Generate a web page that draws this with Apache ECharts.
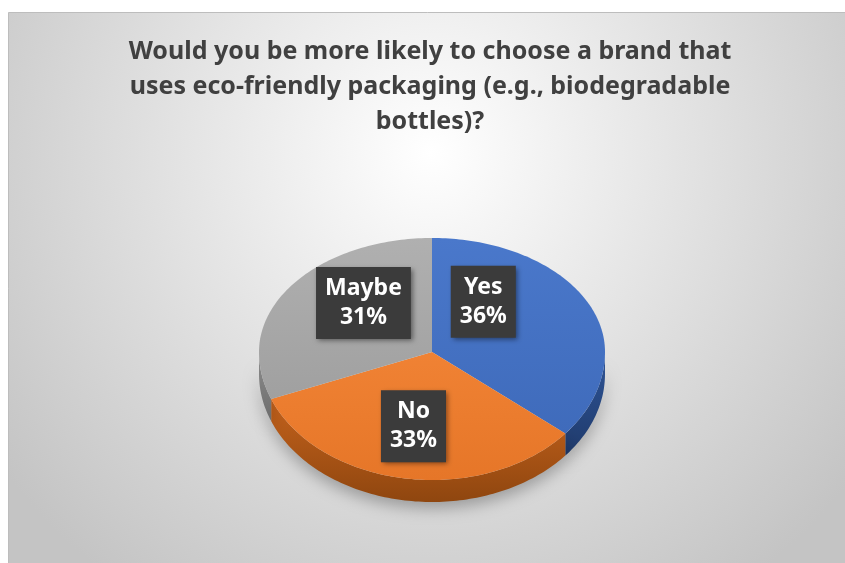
<!DOCTYPE html>
<html>
<head>
<meta charset="utf-8">
<script src="https://cdn.jsdelivr.net/npm/echarts@6/dist/echarts.min.js"></script>
<style>
  html, body { margin: 0; padding: 0; background: #ffffff; }
  #chart { width: 845px; height: 563px; }
</style>
</head>
<body>
<div id="chart"></div>
<script>
// Survey answers and their shares (percent)
const categories = ['Yes', 'No', 'Maybe'];
const shares = [36, 33, 31];
const titleLines = [
  'Would you be more likely to choose a brand that',
  'uses eco-friendly packaging (e.g., biodegradable',
  'bottles)?'
];

// Slice styling
const topColors = [
  ['#4a78cb', '#3f6bbb'],
  ['#f08234', '#e67628'],
  ['#b0b0b0', '#a0a0a0']
];
const sideColors = [
  ['#2f5597', '#1f3a6b'],
  ['#c4621c', '#8f460f'],
  ['#8e8e8e', '#6c6c6c']
];
// small per-label nudges (px) from the computed anchor point
const labelNudge = [[-27, -26], [-5, 11], [3, -17]];

// Tilted-disc geometry
const geo = { cx: 432, cy: 352, rx: 173, ryBack: 114, ryFront: 128, depth: 22 };

const total = shares.reduce((a, b) => a + b, 0);
const startAngles = [];
shares.reduce((acc, v, i) => { startAngles[i] = acc / total * Math.PI * 2; return acc + v; }, 0);

// theta measured clockwise from 12 o'clock
function rim(theta, dy) {
  const s = Math.sin(theta), c = Math.cos(theta);
  const ry = c > 0 ? geo.ryBack : geo.ryFront;
  return [geo.cx + geo.rx * s, geo.cy - ry * c + (dy || 0)];
}

function arcPoints(a0, a1, dy) {
  const n = Math.max(2, Math.ceil((a1 - a0) / 0.02));
  const pts = [];
  for (let k = 0; k <= n; k++) pts.push(rim(a0 + (a1 - a0) * k / n, dy));
  return pts;
}

function renderSlice(params, api) {
  const i = params.dataIndex;
  const value = api.value(0);
  const a0 = startAngles[i];
  const a1 = a0 + value / total * Math.PI * 2;
  const children = [];

  // front wall (only the part facing the viewer)
  const f0 = Math.max(a0, Math.PI / 2), f1 = Math.min(a1, Math.PI * 1.5);
  if (f1 > f0) {
    const topArc = arcPoints(f0, f1, 0);
    const botArc = arcPoints(f0, f1, geo.depth).reverse();
    children.push({
      type: 'polygon',
      z2: 1,
      shape: { points: topArc.concat(botArc) },
      style: {
        fill: new echarts.graphic.LinearGradient(0, 0, 0, 1, [
          { offset: 0, color: sideColors[i][0] },
          { offset: 1, color: sideColors[i][1] }
        ]),
        shadowBlur: 16,
        shadowColor: 'rgba(0,0,0,0.3)',
        shadowOffsetY: 6
      }
    });
  }

  // top face
  const face = [[geo.cx, geo.cy]].concat(arcPoints(a0, a1, 0));
  children.push({
    type: 'polygon',
    z2: 2,
    shape: { points: face },
    style: {
      fill: new echarts.graphic.LinearGradient(0, 0, 0, 1, [
        { offset: 0, color: topColors[i][0] },
        { offset: 1, color: topColors[i][1] }
      ])
    }
  });

  // data label
  const mid = (a0 + a1) / 2;
  const anchor = rim(mid, 0);
  const lx = geo.cx + (anchor[0] - geo.cx) * 0.5 + labelNudge[i][0];
  const ly = geo.cy + (anchor[1] - geo.cy) * 0.5 + labelNudge[i][1];
  children.push({
    type: 'text',
    z2: 10,
    style: {
      x: lx,
      y: ly,
      text: categories[i] + '\n' + value + '%',
      align: 'center',
      verticalAlign: 'middle',
      fill: '#ffffff',
      font: 'bold 23px "Noto Sans"',
      lineHeight: 29,
      backgroundColor: '#3b3b3b',
      padding: [7, 9, 7, 9],
      shadowBlur: 5,
      shadowColor: 'rgba(0,0,0,0.45)',
      shadowOffsetX: 2,
      shadowOffsetY: 2
    }
  });

  return { type: 'group', children: children };
}

const chart = echarts.init(document.getElementById('chart'), null, { renderer: 'canvas' });

chart.setOption({
  animation: false,
  graphic: [{
    type: 'rect',
    left: 8,
    top: 12,
    z: -10,
    shape: { width: 845, height: 560 },
    style: {
      fill: new echarts.graphic.RadialGradient(0.5, 0.25, 0.95, [
        { offset: 0, color: '#ffffff' },
        { offset: 1, color: '#c4c4c4' }
      ]),
      stroke: '#bdbdbd',
      lineWidth: 1
    }
  }, {
    type: 'text',
    x: 430,
    y: 34,
    z: 5,
    style: {
      text: titleLines.join('\n'),
      align: 'center',
      verticalAlign: 'top',
      font: 'bold 25px "Noto Sans"',
      lineHeight: 35,
      fill: '#404040'
    }
  }],
  series: [{
    type: 'custom',
    coordinateSystem: 'none',
    data: shares.map(v => [v]),
    renderItem: renderSlice
  }]
});
</script>
</body>
</html>
